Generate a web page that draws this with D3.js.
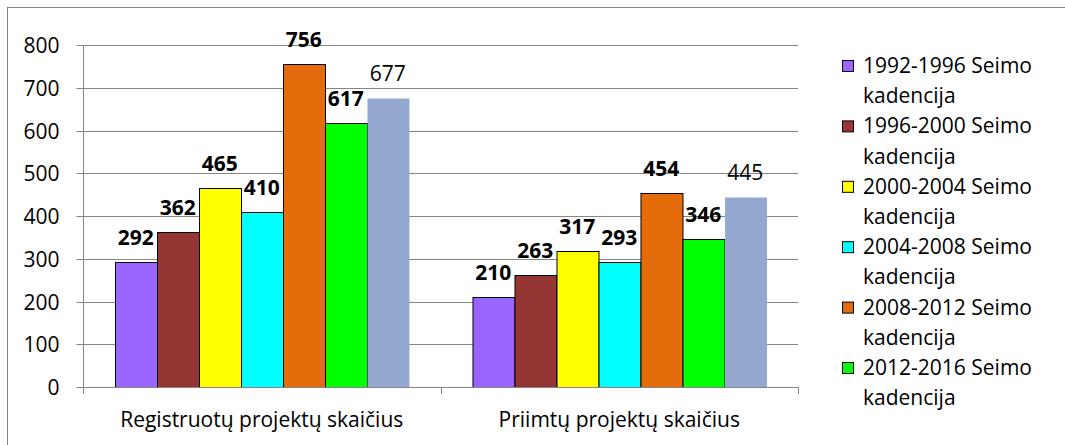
<!DOCTYPE html>
<html>
<head>
<meta charset="utf-8">
<script src="https://cdn.jsdelivr.net/npm/d3@7"></script>
<style>
  html, body { margin: 0; padding: 0; background: #fff; }
  svg { display: block; }
  text { font-family: "Open Sans", "DejaVu Sans", sans-serif; fill: #000; }
</style>
</head>
<body>
<svg id="chart" width="1065" height="445"></svg>
<script>
// ---- data ----
const categories = ["Registruotų projektų skaičius", "Priimtų projektų skaičius"];
const seriesNames = [
  "1992-1996 Seimo kadencija",
  "1996-2000 Seimo kadencija",
  "2000-2004 Seimo kadencija",
  "2004-2008 Seimo kadencija",
  "2008-2012 Seimo kadencija",
  "2012-2016 Seimo kadencija",
  "2016-2020 Seimo kadencija"
];
const legendShown = [true, true, true, true, true, true, false];
const registeredValues = [292, 362, 465, 410, 756, 617, 677];
const adoptedValues = [210, 263, 317, 293, 454, 346, 445];
const yTickValues = [0, 100, 200, 300, 400, 500, 600, 700, 800];
const seriesColors = ["#9966ff", "#963634", "#ffff00", "#00ffff", "#e46c0a", "#00ff00", "#95a9d0"];
const seriesOutlined = [true, true, true, true, true, true, false];
const labelBold = [true, true, true, true, true, true, false];

const valuesByCategory = [registeredValues, adoptedValues];

(function draw() {
  const svg = d3.select("#chart");
  const plotLeft = 83, plotRight = 798, plotTop = 45, plotBottom = 387;
  const gridColor = "#868686";

  // chart frame (extends beyond the visible area on right/bottom)
  svg.append("rect")
    .attr("x", 7.5).attr("y", 7.5)
    .attr("width", 1080).attr("height", 460)
    .attr("fill", "#fff").attr("stroke", gridColor).attr("stroke-width", 1);

  const x0 = d3.scaleBand().domain(categories).range([plotLeft, plotRight]).padding(0);
  const x1 = d3.scaleBand().domain(d3.range(seriesNames.length))
    .range([0, x0.bandwidth()]).paddingInner(0).paddingOuter(0.756);
  const y = d3.scaleLinear().domain([0, 800]).range([plotBottom, plotTop]);

  // gridlines
  svg.append("g").selectAll("line")
    .data(yTickValues.filter(v => v > 0))
    .join("line")
    .attr("x1", plotLeft).attr("x2", plotRight)
    .attr("y1", d => Math.round(y(d)) + 0.5).attr("y2", d => Math.round(y(d)) + 0.5)
    .attr("stroke", gridColor).attr("stroke-width", 1);

  // y axis
  const yAxis = svg.append("g")
    .attr("transform", `translate(${plotLeft + 0.5},0)`)
    .call(d3.axisLeft(y).tickValues(yTickValues).tickSize(7).tickPadding(17).tickSizeOuter(0));
  yAxis.select(".domain").remove();
  yAxis.selectAll(".tick line").attr("stroke", gridColor);
  yAxis.selectAll(".tick").attr("transform", d => `translate(0,${Math.round(y(d)) + 0.5})`);
  yAxis.selectAll(".tick text")
    .attr("font-size", 21).attr("font-family", "Open Sans").attr("fill", "#000")
    .attr("dy", "0.36em");
  yAxis.append("line")
    .attr("x1", 0).attr("x2", 0)
    .attr("y1", Math.round(y(800)) + 0.5).attr("y2", plotBottom + 6)
    .attr("stroke", gridColor);

  // bars
  const groups = svg.append("g").selectAll("g")
    .data(categories)
    .join("g")
    .attr("transform", d => `translate(${x0(d)},0)`);

  groups.selectAll("rect")
    .data((d, ci) => valuesByCategory[ci].map((v, si) => ({ v, si })))
    .join("rect")
    .attr("x", d => Math.round(x1(d.si)) + 0.5)
    .attr("y", d => Math.round(y(d.v)) + 0.5)
    .attr("width", x1.bandwidth())
    .attr("height", d => plotBottom - Math.round(y(d.v)))
    .attr("fill", d => seriesColors[d.si])
    .attr("stroke", d => seriesOutlined[d.si] ? "#000" : "none")
    .attr("stroke-width", 1);

  // x axis
  const xAxisG = svg.append("g");
  xAxisG.append("line")
    .attr("x1", plotLeft).attr("x2", plotRight)
    .attr("y1", plotBottom + 0.5).attr("y2", plotBottom + 0.5)
    .attr("stroke", gridColor);
  xAxisG.selectAll("line.tk")
    .data([plotLeft, ...categories.map(c => x0(c) + x0.bandwidth())])
    .join("line").attr("class", "tk")
    .attr("x1", d => Math.round(d) + 0.5).attr("x2", d => Math.round(d) + 0.5)
    .attr("y1", plotBottom).attr("y2", plotBottom + 7)
    .attr("stroke", gridColor);
  xAxisG.selectAll("text")
    .data(categories)
    .join("text")
    .attr("x", d => x0(d) + x0.bandwidth() / 2)
    .attr("y", 427)
    .attr("text-anchor", "middle")
    .attr("font-size", 21)
    .text(d => d);

  // value labels
  groups.selectAll("text.val")
    .data((d, ci) => valuesByCategory[ci].map((v, si) => ({ v, si })))
    .join("text").attr("class", "val")
    .attr("x", d => x1(d.si) + x1.bandwidth() / 2)
    .attr("y", d => y(d.v) - 17)
    .attr("text-anchor", "middle")
    .attr("font-size", 21)
    .attr("font-weight", d => labelBold[d.si] ? "bold" : "normal")
    .text(d => d.v);

  // legend
  const legendItems = seriesNames.map((n, i) => ({ n, i })).filter(d => legendShown[d.i]);
  const lg = svg.append("g").selectAll("g")
    .data(legendItems)
    .join("g")
    .attr("transform", (d, k) => `translate(842,${73 + k * 60.4})`);
  lg.append("rect")
    .attr("x", 0.5).attr("y", -12.5)
    .attr("width", 11).attr("height", 11)
    .attr("fill", d => seriesColors[d.i])
    .attr("stroke", "#000").attr("stroke-width", 1);
  lg.each(function(d) {
    const words = d.n.split(" ");
    const line1 = words.slice(0, -1).join(" ");
    const line2 = words[words.length - 1];
    const t = d3.select(this).append("text").attr("x", 21).attr("y", 0).attr("font-size", 21);
    t.append("tspan").attr("x", 21).attr("y", 0).text(line1);
    t.append("tspan").attr("x", 21).attr("y", 30.2).text(line2);
  });
})();
</script>
</body>
</html>
